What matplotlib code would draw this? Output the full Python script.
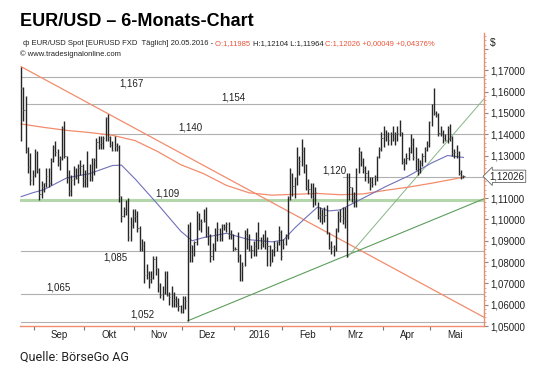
import numpy as np
import pandas as pd
import matplotlib
matplotlib.use("Agg")
import matplotlib.pyplot as plt
from matplotlib.ticker import FixedLocator, MultipleLocator, FuncFormatter, NullFormatter
import matplotlib.transforms as mtransforms

plt.rcParams['font.family'] = ['Liberation Sans', 'DejaVu Sans']

# Tageskurse EUR/USD 24.08.2015 - 20.05.2016 (High / Low / Close)
highs = (
    [1.1714, 1.1620, 1.1580, 1.1340, 1.1310, 1.1230] +  # Aug
    [1.1330, 1.1320, 1.1240, 1.1180, 1.1170, 1.1240, 1.1240, 1.1290, 1.1350, 1.1370, 1.1330,
     1.1300, 1.1440, 1.1460, 1.1300, 1.1230, 1.1210, 1.1250, 1.1240, 1.1260, 1.1280, 1.1260] +  # Sep
    [1.1230, 1.1320, 1.1260, 1.1290, 1.1290, 1.1380, 1.1390, 1.1390, 1.1390, 1.1480, 1.1495,
     1.1390, 1.1370, 1.1390, 1.1360, 1.1350, 1.1110, 1.1060, 1.1090, 1.1100, 1.1010, 1.1050] +  # Okt
    [1.1050, 1.1040, 1.0970, 1.0910, 1.0900, 1.0790, 1.0760, 1.0760, 1.0830, 1.0830, 1.0770,
     1.0700, 1.0690, 1.0760, 1.0760, 1.0660, 1.0690, 1.0660, 1.0640, 1.0630, 1.0600] +  # Nov
    [1.0640, 1.0640, 1.0980, 1.0990, 1.0880, 1.0900, 1.1040, 1.1030, 1.1000, 1.1050, 1.1060,
     1.0970, 1.0930, 1.0890, 1.0960, 1.0990, 1.0960, 1.0980, 1.0980, 1.0990, 1.0990, 1.0950, 1.0930] +  # Dez
    [1.0870, 1.0940, 1.0840, 1.0800, 1.0950, 1.0960, 1.0930, 1.0880, 1.0900, 1.0940, 1.0990,
     1.0920, 1.0930, 1.0950, 1.0920, 1.0880, 1.0860, 1.0900, 1.0900, 1.0970, 1.0950] +  # Jan
    [1.0910, 1.0930, 1.1110, 1.1240, 1.1220, 1.1200, 1.1340, 1.1300, 1.1376, 1.1340, 1.1260,
     1.1190, 1.1170, 1.1170, 1.1150, 1.1080, 1.1060, 1.1050, 1.1060, 1.1070, 1.0940] +  # Feb
    [1.0900, 1.0880, 1.0960, 1.1040, 1.1050, 1.1060, 1.1060, 1.1218, 1.1220, 1.1150, 1.1130,
     1.1240, 1.1340, 1.1320, 1.1290, 1.1250, 1.1230, 1.1200, 1.1200, 1.1210, 1.1300, 1.1340, 1.1410] +  # Mrz
    [1.1440, 1.1420, 1.1410, 1.1410, 1.1440, 1.1410, 1.1440, 1.1465, 1.1410, 1.1290, 1.1310,
     1.1340, 1.1400, 1.1380, 1.1340, 1.1290, 1.1280, 1.1310, 1.1340, 1.1370, 1.1460] +  # Apr
    [1.1540, 1.1616, 1.1510, 1.1500, 1.1440, 1.1420, 1.1400, 1.1440, 1.1450, 1.1390, 1.1330,
     1.1350, 1.1320, 1.1230, 1.1210]  # Mai
)
lows = (
    [1.1370, 1.1460, 1.1310, 1.1220, 1.1160, 1.1160] +
    [1.1200, 1.1220, 1.1090, 1.1100, 1.1130, 1.1150, 1.1150, 1.1160, 1.1270, 1.1300, 1.1250,
     1.1230, 1.1280, 1.1290, 1.1170, 1.1110, 1.1110, 1.1160, 1.1190, 1.1170, 1.1210, 1.1150] +
    [1.1150, 1.1150, 1.1180, 1.1180, 1.1210, 1.1240, 1.1330, 1.1330, 1.1330, 1.1370, 1.1370,
     1.1340, 1.1320, 1.1320, 1.1320, 1.1080, 1.0990, 1.1010, 1.1020, 1.0900, 1.0900, 1.0960] +
    [1.0990, 1.0940, 1.0850, 1.0850, 1.0700, 1.0720, 1.0680, 1.0700, 1.0720, 1.0740, 1.0660,
     1.0630, 1.0620, 1.0650, 1.0640, 1.0600, 1.0590, 1.0590, 1.0590, 1.0570, 1.0560] +
    [1.0560, 1.0580, 1.0524, 1.0800, 1.0800, 1.0830, 1.0880, 1.0950, 1.0940, 1.0990, 1.0920,
     1.0880, 1.0800, 1.0810, 1.0850, 1.0900, 1.0900, 1.0900, 1.0950, 1.0940, 1.0910, 1.0910, 1.0850] +
    [1.0855, 1.0800, 1.0710, 1.0710, 1.0780, 1.0860, 1.0850, 1.0820, 1.0830, 1.0830, 1.0860,
     1.0860, 1.0870, 1.0860, 1.0780, 1.0780, 1.0800, 1.0830, 1.0850, 1.0880, 1.0810] +
    [1.0860, 1.0880, 1.0910, 1.1090, 1.1110, 1.1100, 1.1160, 1.1210, 1.1250, 1.1220, 1.1140,
     1.1120, 1.1100, 1.1060, 1.1070, 1.1000, 1.0990, 1.0980, 1.0990, 1.0930, 1.0860] +
    [1.0840, 1.0830, 1.0850, 1.0940, 1.0990, 1.0980, 1.0960, 1.0822, 1.1090, 1.1080, 1.1060,
     1.1060, 1.1220, 1.1250, 1.1220, 1.1180, 1.1170, 1.1140, 1.1150, 1.1160, 1.1180, 1.1290, 1.1320] +
    [1.1340, 1.1370, 1.1350, 1.1350, 1.1370, 1.1350, 1.1370, 1.1390, 1.1260, 1.1230, 1.1260,
     1.1280, 1.1310, 1.1280, 1.1230, 1.1210, 1.1220, 1.1250, 1.1270, 1.1320, 1.1340] +
    [1.1440, 1.1490, 1.1480, 1.1390, 1.1390, 1.1360, 1.1370, 1.1360, 1.1370, 1.1300, 1.1290,
     1.1290, 1.1210, 1.1190, 1.1196]
)
closes = (
    [1.1615, 1.1515, 1.1320, 1.1245, 1.1185, 1.1210] +
    [1.1310, 1.1230, 1.1120, 1.1150, 1.1170, 1.1205, 1.1170, 1.1275, 1.1340, 1.1315, 1.1265,
     1.1290, 1.1430, 1.1300, 1.1195, 1.1135, 1.1185, 1.1200, 1.1195, 1.1240, 1.1250, 1.1175] +
    [1.1195, 1.1215, 1.1200, 1.1260, 1.1280, 1.1365, 1.1355, 1.1360, 1.1380, 1.1475, 1.1385,
     1.1350, 1.1325, 1.1345, 1.1340, 1.1110, 1.1015, 1.1050, 1.1045, 1.0920, 1.0975, 1.1005] +
    [1.1015, 1.0960, 1.0860, 1.0880, 1.0740, 1.0750, 1.0720, 1.0725, 1.0815, 1.0770, 1.0690,
     1.0645, 1.0655, 1.0730, 1.0645, 1.0635, 1.0645, 1.0625, 1.0610, 1.0595, 1.0565] +
    [1.0630, 1.0615, 1.0940, 1.0880, 1.0840, 1.0895, 1.1025, 1.0995, 1.0990, 1.0995, 1.0935,
     1.0925, 1.0830, 1.0865, 1.0925, 1.0955, 1.0915, 1.0975, 1.0965, 1.0980, 1.0930, 1.0930, 1.0860] +
    [1.0860, 1.0830, 1.0750, 1.0780, 1.0930, 1.0920, 1.0855, 1.0855, 1.0875, 1.0865, 1.0915,
     1.0890, 1.0905, 1.0890, 1.0875, 1.0795, 1.0845, 1.0870, 1.0895, 1.0940, 1.0830] +
    [1.0885, 1.0920, 1.1105, 1.1210, 1.1155, 1.1195, 1.1290, 1.1275, 1.1320, 1.1255, 1.1155,
     1.1145, 1.1125, 1.1100, 1.1130, 1.1015, 1.1020, 1.1015, 1.1020, 1.0935, 1.0870] +
    [1.0870, 1.0865, 1.0955, 1.1000, 1.1015, 1.1005, 1.0995, 1.1180, 1.1150, 1.1110, 1.1090,
     1.1215, 1.1315, 1.1270, 1.1240, 1.1220, 1.1180, 1.1175, 1.1165, 1.1200, 1.1295, 1.1330, 1.1380] +
    [1.1390, 1.1390, 1.1375, 1.1400, 1.1380, 1.1400, 1.1405, 1.1410, 1.1270, 1.1265, 1.1290,
     1.1315, 1.1355, 1.1295, 1.1285, 1.1225, 1.1265, 1.1300, 1.1325, 1.1350, 1.1455] +
    [1.1540, 1.1500, 1.1490, 1.1405, 1.1405, 1.1380, 1.1375, 1.1430, 1.1380, 1.1310, 1.1315,
     1.1315, 1.1220, 1.1205, 1.12026]
)
dates = pd.bdate_range('2015-08-24', '2016-05-20')

# gleitende Durchschnitte (Stuetzstellen je Handelstag-Index)
ma_idx = [0, 10, 20, 30, 40, 50, 60, 70, 80, 90, 100, 110, 120, 130, 140, 150, 160, 170, 180, 190, 194]
ma200 = [1.1448, 1.1432, 1.1418, 1.1408, 1.1395, 1.1370, 1.1318, 1.1257, 1.1215, 1.1160, 1.1125,
         1.1114, 1.1118, 1.1122, 1.1116, 1.1120, 1.1137, 1.1152, 1.1170, 1.1190, 1.1198]
ma50_idx = [0, 5, 10, 20, 30, 40, 44, 50, 60, 70, 75, 80, 90, 100, 110, 115, 120, 125, 130, 135,
            140, 150, 160, 170, 180, 187, 194]
ma50 = [1.1107, 1.1125, 1.1140, 1.1195, 1.1215, 1.1253, 1.1255, 1.1190, 1.1070, 1.0945, 1.0900,
        1.0915, 1.0935, 1.0905, 1.0895, 1.0903, 1.0960, 1.1010, 1.1058, 1.1040, 1.1045, 1.1100,
        1.1155, 1.1205, 1.1265, 1.1300, 1.1291]

# horizontale Marken: Wert, Start-Index, Label-Index
levels = [1.167, 1.154, 1.140, 1.120, 1.085, 1.065, 1.052]
level_start = [0, 2, 35, 141, 0, 0, 0]
level_label_x = [43, 88, 69, 132, 36, 11, 48]
level_label_above = [False, True, True, True, False, True, True]
support = 1.109
support_label_x = 59

# Trendlinien (Index, Kurs)
down_line = ([0, 203], [1.1717, 1.0541])
up_line_long = ([73, 203], [1.0524, 1.1097])
up_line_steep = ([143, 203], [1.0822, 1.1566])

month_names = ['Sep', 'Okt', 'Nov', 'Dez', '2016', 'Feb', 'Mrz', 'Apr', 'Mai']

x = np.arange(len(closes))
assert len(highs) == len(lows) == len(closes) == len(dates)

fig = plt.figure(figsize=(5.4, 3.75), dpi=100)
ax = fig.add_axes([20/540, 1-326/375, 464/540, 293/375])
ax.set_xlim(-0.5, 203)
ax.set_ylim(1.0500, 1.1875)

grey = '#b0b0b0'
orange = '#f28c6c'
for lv, st, lx, above in zip(levels, level_start, level_label_x, level_label_above):
    ax.plot([st, 203], [lv, lv], color=grey, lw=0.8, zorder=1)
    off = 0.0032 if above else -0.0030
    ax.text(lx, lv + off, ('%.3f' % lv).replace('.', ','), fontsize=7, ha='left', va='center', color='#222')

ax.plot([0, 203], [support, support], color='#b3d6ab', lw=2.2, zorder=1)
ax.text(support_label_x, support + 0.0032, '1,109', fontsize=7, ha='left', va='center', color='#222')

ax.plot(*down_line, color=orange, lw=0.9, zorder=2)
ax.plot(*up_line_long, color='#5d9e5d', lw=0.8, zorder=2)
ax.plot(*up_line_steep, color='#86b686', lw=0.7, zorder=2)
ax.plot(ma_idx, ma200, color=orange, lw=0.9, zorder=2)
ax.plot(ma50_idx, ma50, color='#7070bb', lw=0.8, zorder=2)

# OHLC-Balken
ax.vlines(x, lows, highs, color='#262626', lw=1.0, zorder=3)
ax.hlines(closes, x, x + 0.5, color='#666666', lw=0.7, zorder=3)

# Achsen
for s in ['top', 'left']:
    ax.spines[s].set_visible(False)
ax.spines['bottom'].set_color(orange)
ax.spines['right'].set_color(orange)
ax.spines['bottom'].set_linewidth(1.0)
ax.spines['right'].set_linewidth(1.0)

ax.yaxis.tick_right()
ax.yaxis.set_major_locator(MultipleLocator(0.01))
ax.yaxis.set_minor_locator(MultipleLocator(0.002))
ax.yaxis.set_major_formatter(FuncFormatter(lambda v, p: ('%.5f' % v).replace('.', ',') if v < 1.175 else ''))
ax.tick_params(axis='y', which='major', length=3, color='#888', labelsize=7, pad=1.5, labelcolor='#222')
ax.tick_params(axis='y', which='minor', length=1.5, color='#aaa')

month_start = [i for i in range(1, len(dates)) if dates[i].month != dates[i - 1].month]
ax.xaxis.set_major_locator(FixedLocator([m - 0.5 for m in month_start]))
ax.xaxis.set_major_formatter(NullFormatter())
ax.xaxis.set_minor_locator(FixedLocator([m + 10.5 for m in month_start]))
ax.xaxis.set_minor_formatter(FuncFormatter(lambda v, p: month_names[p] if p < len(month_names) else ''))
ax.tick_params(axis='x', which='major', length=3, color='#777')
ax.tick_params(axis='x', which='minor', length=0, labelsize=7, pad=3, labelcolor='#222')

# aktueller Kurs
trans = mtransforms.blended_transform_factory(ax.transAxes, ax.transData)
ax.text(1.012, closes[-1], ('%.5f' % closes[-1]).replace('.', ','), transform=trans, fontsize=7,
        va='center', ha='left', color='#222',
        bbox=dict(boxstyle='larrow,pad=0.12', fc='white', ec='#666', lw=0.6))
ax.text(1.012, 1.1830, '$', transform=trans, fontsize=7.5, va='center', ha='left', color='#222')

# Kopfzeilen
fig.text(20/540, 1-22/375, 'EUR/USD – 6-Monats-Chart', fontsize=13, fontweight='bold', va='center', ha='left')

parts = [('ф EUR/USD Spot [EURUSD FXD  Täglich] 20.05.2016 - ', '#222'),
         ('O:1,11985 ', '#e8553a'),
         ('H:1,12104 L:1,11964 ', '#222'),
         ('C:1,12026 +0,00049 +0,04376%', '#e8553a')]
xp = 23/540
fig.canvas.draw()
for s, c in parts:
    t = fig.text(xp, 1-45/375, s, fontsize=5.5, color=c, va='baseline', ha='left')
    fig.canvas.draw()
    xp = t.get_window_extent().x1 / fig.bbox.width
fig.text(20/540, 1-56/375, '© www.tradesignalonline.com', fontsize=5.5, color='#222', va='baseline', ha='left')

fig.text(20/540, 1-357/375, 'Quelle: BörseGo AG', fontsize=9, color='#222', va='center', ha='left',
         family=['Roboto', 'DejaVu Sans'])

fig.savefig('out.png', dpi=100)
